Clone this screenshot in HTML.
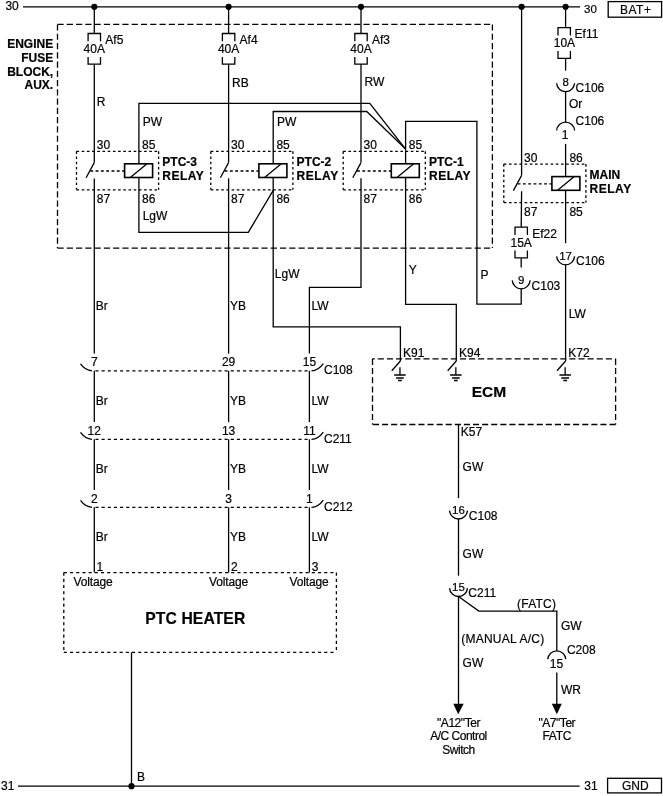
<!DOCTYPE html>
<html><head><meta charset="utf-8"><title>PTC Heater Wiring</title>
<style>
html,body{margin:0;padding:0;background:#fff;}
body{width:663px;height:796px;overflow:hidden;}
svg{display:block;will-change:transform;}
text{font-family:"Liberation Sans",sans-serif;fill:#000;stroke:#000;stroke-width:0.2px;}
</style></head><body>
<svg width="663" height="796" viewBox="0 0 663 796">
<g fill="none" stroke="#000" stroke-width="1.3" font-size="12">
<path d="M23.00,6.80 L580.10,6.80"/>
<text x="5.40" y="9.80">30</text>
<text x="584.00" y="12.70" font-size="11.5">30</text>
<rect x="608.2" y="1.6" width="53.4" height="15.6" fill="none"/>
<text x="620.00" y="13.70" letter-spacing="0.5">BAT+</text>
<circle cx="94.30" cy="6.80" r="3.1" fill="#000" stroke="none"/>
<circle cx="228.60" cy="6.80" r="3.1" fill="#000" stroke="none"/>
<circle cx="361.00" cy="6.80" r="3.1" fill="#000" stroke="none"/>
<circle cx="521.60" cy="6.80" r="3.1" fill="#000" stroke="none"/>
<circle cx="565.60" cy="6.80" r="3.1" fill="#000" stroke="none"/>
<path d="M18.00,786.20 L579.60,786.20"/>
<text x="1.00" y="789.60">31</text>
<text x="584.30" y="790.00">31</text>
<rect x="607.6" y="778.3" width="53.9" height="14.6" fill="none"/>
<text x="622.00" y="790.30">GND</text>
<circle cx="131.50" cy="786.20" r="3.1" fill="#000" stroke="none"/>
<text x="137.00" y="780.50">B</text>
<path d="M131.50,652.30 L131.50,786.20"/>
<path d="M57.50,24.40 L492.40,24.40" stroke-dasharray="6.2 3.07"/>
<path d="M492.40,24.40 L492.40,248.10" stroke-dasharray="6.2 3.07"/>
<path d="M57.50,248.10 L492.40,248.10" stroke-dasharray="6.2 3.07"/>
<path d="M57.50,24.40 L57.50,248.10" stroke-dasharray="6.2 3.07"/>
<text x="53.20" y="47.60" font-weight="bold" text-anchor="end">ENGINE</text>
<text x="53.20" y="61.90" font-weight="bold" text-anchor="end">FUSE</text>
<text x="53.20" y="75.50" font-weight="bold" text-anchor="end">BLOCK,</text>
<text x="53.20" y="88.90" font-weight="bold" text-anchor="end">AUX.</text>
<path d="M88.10,41.30 L88.10,33.50 L100.50,33.50 L100.50,41.30"/>
<path d="M88.10,56.90 L88.10,64.20 L100.50,64.20 L100.50,56.90"/>
<text x="94.30" y="53.20" text-anchor="middle">40A</text>
<text x="105.30" y="44.00">Af5</text>
<path d="M222.40,41.30 L222.40,33.50 L234.80,33.50 L234.80,41.30"/>
<path d="M222.40,56.90 L222.40,64.20 L234.80,64.20 L234.80,56.90"/>
<text x="228.60" y="53.20" text-anchor="middle">40A</text>
<text x="239.60" y="44.00">Af4</text>
<path d="M354.80,41.30 L354.80,33.50 L367.20,33.50 L367.20,41.30"/>
<path d="M354.80,56.90 L354.80,64.20 L367.20,64.20 L367.20,56.90"/>
<text x="361.00" y="53.20" text-anchor="middle">40A</text>
<text x="372.00" y="44.00">Af3</text>
<path d="M76.50,151.30 L158.60,151.30" stroke-dasharray="2.6 2.6"/>
<path d="M158.60,151.30 L158.60,189.80" stroke-dasharray="2.6 2.6"/>
<path d="M76.50,189.80 L158.60,189.80" stroke-dasharray="2.6 2.6"/>
<path d="M76.50,151.30 L76.50,189.80" stroke-dasharray="2.6 2.6"/>
<rect x="124.60" y="163.80" width="28.00" height="13.70" fill="#fff" stroke-width="1.6"/>
<path d="M130.30,177.50 L147.00,163.80"/>
<path d="M94.30,162.60 L86.10,177.80"/>
<path d="M90.30,171.00 L124.60,171.00" stroke-dasharray="2.9 2.4"/>
<text x="96.80" y="149.10">30</text>
<text x="142.10" y="149.10">85</text>
<text x="96.80" y="202.70">87</text>
<text x="142.10" y="202.70">86</text>
<text x="162.30" y="166.30" font-weight="bold">PTC-3</text>
<text x="162.30" y="179.70" letter-spacing="0.5" font-weight="bold">RELAY</text>
<path d="M210.80,151.30 L292.90,151.30" stroke-dasharray="2.6 2.6"/>
<path d="M292.90,151.30 L292.90,189.80" stroke-dasharray="2.6 2.6"/>
<path d="M210.80,189.80 L292.90,189.80" stroke-dasharray="2.6 2.6"/>
<path d="M210.80,151.30 L210.80,189.80" stroke-dasharray="2.6 2.6"/>
<rect x="258.90" y="163.80" width="28.00" height="13.70" fill="#fff" stroke-width="1.6"/>
<path d="M264.60,177.50 L281.30,163.80"/>
<path d="M228.60,162.60 L220.40,177.80"/>
<path d="M224.60,171.00 L258.90,171.00" stroke-dasharray="2.9 2.4"/>
<text x="231.10" y="149.10">30</text>
<text x="276.40" y="149.10">85</text>
<text x="231.10" y="202.70">87</text>
<text x="276.40" y="202.70">86</text>
<text x="296.60" y="166.30" font-weight="bold">PTC-2</text>
<text x="296.60" y="179.70" letter-spacing="0.5" font-weight="bold">RELAY</text>
<path d="M343.20,151.30 L425.30,151.30" stroke-dasharray="2.6 2.6"/>
<path d="M425.30,151.30 L425.30,189.80" stroke-dasharray="2.6 2.6"/>
<path d="M343.20,189.80 L425.30,189.80" stroke-dasharray="2.6 2.6"/>
<path d="M343.20,151.30 L343.20,189.80" stroke-dasharray="2.6 2.6"/>
<rect x="391.30" y="163.80" width="28.00" height="13.70" fill="#fff" stroke-width="1.6"/>
<path d="M397.00,177.50 L413.70,163.80"/>
<path d="M361.00,162.60 L352.80,177.80"/>
<path d="M357.00,171.00 L391.30,171.00" stroke-dasharray="2.9 2.4"/>
<text x="363.50" y="149.10">30</text>
<text x="408.80" y="149.10">85</text>
<text x="363.50" y="202.70">87</text>
<text x="408.80" y="202.70">86</text>
<text x="429.00" y="166.30" font-weight="bold">PTC-1</text>
<text x="429.00" y="179.70" letter-spacing="0.5" font-weight="bold">RELAY</text>
<path d="M503.80,164.10 L585.90,164.10" stroke-dasharray="2.6 2.6"/>
<path d="M585.90,164.10 L585.90,202.60" stroke-dasharray="2.6 2.6"/>
<path d="M503.80,202.60 L585.90,202.60" stroke-dasharray="2.6 2.6"/>
<path d="M503.80,164.10 L503.80,202.60" stroke-dasharray="2.6 2.6"/>
<rect x="551.90" y="176.60" width="28.00" height="13.70" fill="#fff" stroke-width="1.6"/>
<path d="M557.60,190.30 L574.30,176.60"/>
<path d="M521.60,175.40 L513.40,190.60"/>
<path d="M517.60,183.80 L551.90,183.80" stroke-dasharray="2.9 2.4"/>
<text x="524.10" y="161.90">30</text>
<text x="569.40" y="161.90">86</text>
<text x="524.10" y="215.50">87</text>
<text x="569.40" y="215.50">85</text>
<text x="589.60" y="179.10" font-weight="bold">MAIN</text>
<text x="589.60" y="192.50" letter-spacing="0.5" font-weight="bold">RELAY</text>
<path d="M94.30,6.80 L94.30,33.50"/>
<path d="M94.30,64.20 L94.30,162.60"/>
<path d="M228.60,6.80 L228.60,33.50"/>
<path d="M228.60,64.20 L228.60,162.60"/>
<path d="M361.00,6.80 L361.00,33.50"/>
<path d="M361.00,64.20 L361.00,162.60"/>
<path d="M521.60,6.80 L521.60,175.40"/>
<text x="96.80" y="106.30">R</text>
<text x="232.10" y="87.10">RB</text>
<text x="364.50" y="86.30">RW</text>
<path d="M138.90,163.80 L138.90,103.40 L369.80,103.40 L405.40,148.80"/>
<path d="M138.90,177.50 L138.90,232.40 L248.30,232.40 L273.20,190.30"/>
<text x="142.70" y="126.30">PW</text>
<text x="142.70" y="220.30">LgW</text>
<path d="M273.20,163.80 L273.20,111.50 L366.70,111.50 L405.40,148.80"/>
<path d="M273.20,177.50 L273.20,326.80 L400.40,326.80 L400.40,361.00"/>
<text x="277.00" y="126.30">PW</text>
<text x="274.80" y="277.60">LgW</text>
<path d="M405.60,163.80 L405.60,121.30 L476.90,121.30 L476.90,304.20 L521.20,304.20 L521.20,289.00"/>
<path d="M405.60,177.50 L405.60,304.30 L456.30,304.30 L456.30,361.00"/>
<text x="408.80" y="273.80">Y</text>
<text x="480.60" y="278.60">P</text>
<path d="M515.00,235.00 L515.00,227.20 L527.40,227.20 L527.40,235.00"/>
<path d="M515.00,250.60 L515.00,257.90 L527.40,257.90 L527.40,250.60"/>
<text x="521.20" y="246.90" text-anchor="middle">15A</text>
<text x="532.20" y="237.70">Ef22</text>
<path d="M521.60,191.30 L521.20,227.20"/>
<path d="M521.20,258.20 L521.20,267.40"/>
<path d="M512.22,280.40 A9.0,9.0 0 0 0 530.18,280.40"/>
<text x="521.20" y="283.60" font-size="11.5" text-anchor="middle">9</text>
<text x="531.60" y="289.70">C103</text>
<path d="M558.00,35.40 L558.00,27.60 L570.40,27.60 L570.40,35.40"/>
<path d="M558.00,51.00 L558.00,58.30 L570.40,58.30 L570.40,51.00"/>
<text x="564.40" y="47.30" text-anchor="middle">10A</text>
<text x="574.60" y="38.10">Ef11</text>
<path d="M565.60,6.80 L565.60,27.60"/>
<path d="M565.60,58.50 L565.60,70.60"/>
<path d="M556.62,83.20 A9.0,9.0 0 0 0 574.58,83.20"/>
<text x="565.60" y="86.40" font-size="11.5" text-anchor="middle">8</text>
<text x="575.60" y="92.30">C106</text>
<path d="M565.60,91.60 L565.60,122.10"/>
<text x="569.00" y="108.00">Or</text>
<path d="M556.62,130.50 A9.0,9.0 0 0 1 574.58,130.50"/>
<text x="565.20" y="139.40" text-anchor="middle">1</text>
<text x="575.60" y="124.50">C106</text>
<path d="M565.60,143.90 L565.60,176.60"/>
<path d="M565.60,190.30 L565.60,243.20"/>
<path d="M556.62,256.40 A9.0,9.0 0 0 0 574.58,256.40"/>
<text x="565.60" y="259.60" font-size="11.5" text-anchor="middle">17</text>
<text x="576.00" y="264.60">C106</text>
<path d="M565.60,264.80 L565.60,361.00"/>
<text x="568.70" y="318.30">LW</text>
<path d="M372.5,358.8 L615.6,358.8" stroke-dasharray="6.1 3.02" stroke-dashoffset="3.8"/>
<path d="M615.60,424.50 L372.50,424.50" stroke-dasharray="6.1 3.0"/>
<path d="M372.50,358.80 L372.50,424.50" stroke-dasharray="6.1 3.1"/>
<path d="M615.60,358.80 L615.60,424.50" stroke-dasharray="6.1 3.1"/>
<text x="471.70" y="397.20" font-weight="bold" font-size="15.5">ECM</text>
<path d="M400.40,361.00 L391.80,370.70"/>
<path d="M399.95,367.20 L399.95,375.10"/>
<path d="M394.20,375.1 L405.70,375.1 M396.10,378.0 L403.80,378.0 M398.10,380.5 L401.80,380.5" stroke-width="1.5"/>
<text x="403.10" y="356.50">K91</text>
<path d="M456.30,361.00 L447.70,370.70"/>
<path d="M455.85,367.20 L455.85,375.10"/>
<path d="M450.10,375.1 L461.60,375.1 M452.00,378.0 L459.70,378.0 M454.00,380.5 L457.70,380.5" stroke-width="1.5"/>
<text x="459.00" y="356.50">K94</text>
<path d="M565.60,361.00 L557.00,370.70"/>
<path d="M565.15,367.20 L565.15,375.10"/>
<path d="M559.40,375.1 L570.90,375.1 M561.30,378.0 L569.00,378.0 M563.30,380.5 L567.00,380.5" stroke-width="1.5"/>
<text x="568.30" y="356.50">K72</text>
<path d="M361.00,178.30 L361.00,287.40 L309.40,287.40 L309.40,353.60"/>
<path d="M94.30,178.50 L94.30,353.60"/>
<path d="M228.60,178.30 L228.60,353.60"/>
<path d="M94.30,370.80 L309.40,370.80" stroke-dasharray="3.1 3.05" stroke-dashoffset="5.0"/>
<text x="94.30" y="366.30" text-anchor="middle">7</text>
<text x="228.60" y="366.30" text-anchor="middle">29</text>
<text x="309.40" y="366.30" text-anchor="middle">15</text>
<path d="M92.00,370.80 Q85.30,370.50 80.50,363.90"/>
<path d="M311.50,370.80 Q318.40,370.50 323.30,363.60"/>
<text x="324.00" y="374.40">C108</text>
<path d="M94.30,370.80 L94.30,422.10"/>
<path d="M228.60,370.80 L228.60,422.10"/>
<path d="M309.40,370.80 L309.40,422.10"/>
<path d="M94.30,439.30 L309.40,439.30" stroke-dasharray="3.1 3.05" stroke-dashoffset="5.0"/>
<text x="94.30" y="434.80" text-anchor="middle">12</text>
<text x="228.60" y="434.80" text-anchor="middle">13</text>
<text x="309.40" y="434.80" text-anchor="middle">11</text>
<path d="M92.00,439.30 Q85.30,439.00 80.50,432.40"/>
<path d="M311.50,439.30 Q318.40,439.00 323.30,432.10"/>
<text x="324.00" y="442.90">C211</text>
<path d="M94.30,439.30 L94.30,490.10"/>
<path d="M228.60,439.30 L228.60,490.10"/>
<path d="M309.40,439.30 L309.40,490.10"/>
<path d="M94.30,507.30 L309.40,507.30" stroke-dasharray="3.1 3.05" stroke-dashoffset="5.0"/>
<text x="94.30" y="502.80" text-anchor="middle">2</text>
<text x="228.60" y="502.80" text-anchor="middle">3</text>
<text x="309.40" y="502.80" text-anchor="middle">1</text>
<path d="M92.00,507.30 Q85.30,507.00 80.50,500.40"/>
<path d="M311.50,507.30 Q318.40,507.00 323.30,500.10"/>
<text x="324.00" y="510.90">C212</text>
<path d="M94.30,507.30 L94.30,572.60"/>
<path d="M228.60,507.30 L228.60,572.60"/>
<path d="M309.40,507.30 L309.40,572.60"/>
<text x="95.70" y="310.10">Br</text>
<text x="230.00" y="310.10">YB</text>
<text x="95.70" y="404.80">Br</text>
<text x="230.00" y="404.80">YB</text>
<text x="311.40" y="404.80">LW</text>
<text x="95.70" y="472.80">Br</text>
<text x="230.00" y="472.80">YB</text>
<text x="311.40" y="472.80">LW</text>
<text x="95.70" y="540.90">Br</text>
<text x="230.00" y="540.90">YB</text>
<text x="311.40" y="540.90">LW</text>
<text x="311.50" y="309.90">LW</text>
<path d="M63.80,572.60 L336.40,572.60" stroke-dasharray="3.1 3.1"/>
<path d="M63.80,652.40 L336.40,652.40" stroke-dasharray="3.1 3.1"/>
<path d="M63.80,572.60 L63.80,652.40" stroke-dasharray="3.1 3.1"/>
<path d="M336.40,572.60 L336.40,652.40" stroke-dasharray="3.1 3.1"/>
<text x="96.60" y="570.80">1</text>
<text x="230.90" y="570.80">2</text>
<text x="311.70" y="570.80">3</text>
<text x="73.60" y="585.60" letter-spacing="-0.15">Voltage</text>
<text x="209.00" y="585.60" letter-spacing="-0.15">Voltage</text>
<text x="289.50" y="585.60" letter-spacing="-0.15">Voltage</text>
<text x="195.30" y="624.00" letter-spacing="0.1" font-weight="bold" font-size="15.7" text-anchor="middle">PTC HEATER</text>
<path d="M458.50,424.50 L458.50,498.20"/>
<text x="460.80" y="436.40">K57</text>
<text x="462.60" y="470.60">GW</text>
<path d="M449.52,510.60 A9.0,9.0 0 0 0 467.48,510.60"/>
<text x="458.50" y="513.80" font-size="11.5" text-anchor="middle">16</text>
<text x="468.80" y="519.60">C108</text>
<path d="M458.50,519.00 L458.50,575.70"/>
<text x="462.60" y="558.10">GW</text>
<path d="M449.52,588.10 A9.0,9.0 0 0 0 467.48,588.10"/>
<text x="458.50" y="591.30" font-size="11.5" text-anchor="middle">15</text>
<text x="468.30" y="596.90">C211</text>
<path d="M458.50,596.50 L458.50,704.50"/>
<path d="M453.30,703.8 L463.70,703.8 L458.20,714.2 Z" fill="#000" stroke="none"/>
<path d="M458.50,596.50 L478.80,611.10 L556.80,611.10 L556.80,650.80"/>
<text x="517.00" y="608.20" letter-spacing="0.25">(FATC)</text>
<text x="561.00" y="630.10">GW</text>
<path d="M547.82,659.20 A9.0,9.0 0 0 1 565.78,659.20"/>
<text x="556.40" y="668.10" text-anchor="middle">15</text>
<text x="566.90" y="654.20">C208</text>
<path d="M556.80,672.60 L556.80,704.50"/>
<path d="M551.80,703.8 L561.80,703.8 L556.8,714.2 Z" fill="#000" stroke="none"/>
<text x="561.00" y="694.10">WR</text>
<text x="461.20" y="643.00" letter-spacing="0.25">(MANUAL A/C)</text>
<text x="462.60" y="667.20">GW</text>
<text x="458.50" y="726.60" letter-spacing="-0.45" text-anchor="middle">&quot;A12&quot;Ter</text>
<text x="458.50" y="740.20" letter-spacing="-0.5" text-anchor="middle">A/C Control</text>
<text x="458.50" y="753.80" letter-spacing="-0.5" text-anchor="middle">Switch</text>
<text x="556.80" y="726.60" letter-spacing="-0.45" text-anchor="middle">&quot;A7&quot;Ter</text>
<text x="556.80" y="740.20" letter-spacing="-0.3" text-anchor="middle">FATC</text>
</g>
</svg>
</body></html>
